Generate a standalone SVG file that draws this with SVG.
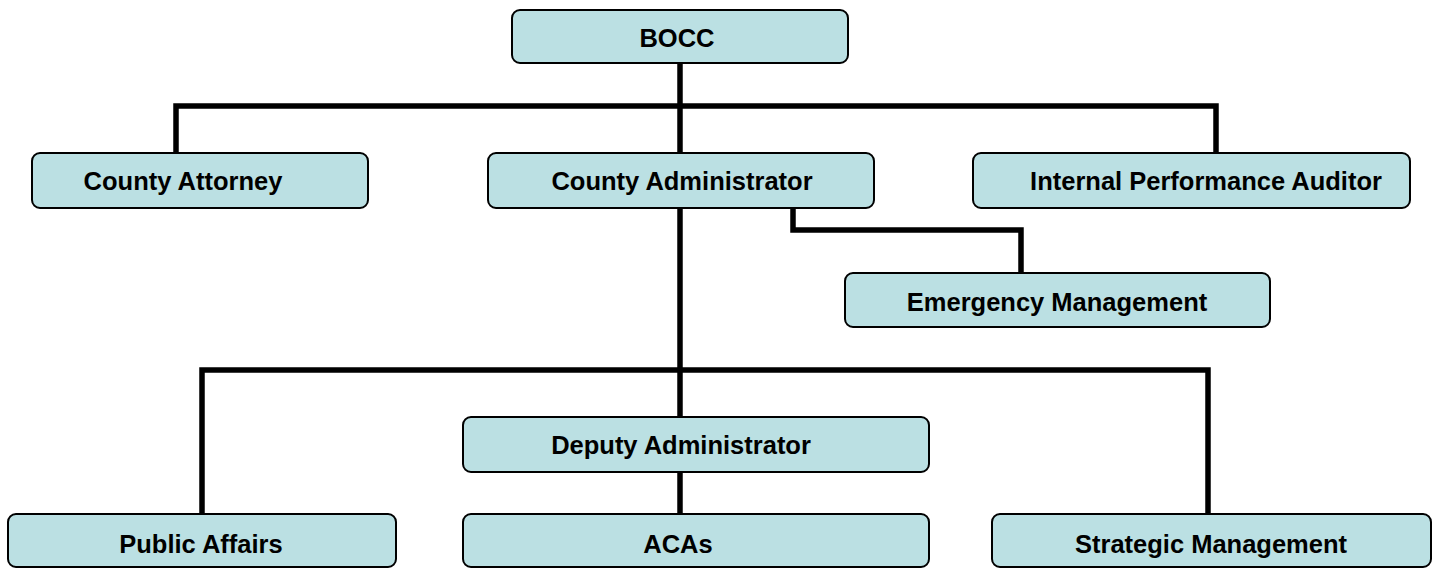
<svg xmlns="http://www.w3.org/2000/svg" width="1444" height="568" viewBox="0 0 1444 568">
<style>
.box{fill:#BBE0E3;stroke:#000;stroke-width:2}
.lbl{font-family:"Liberation Sans",Arial,sans-serif;font-weight:bold;font-size:25.5px;fill:#000;text-anchor:middle}
.conn{fill:none;stroke:#000;stroke-width:5.5;stroke-linejoin:miter;stroke-linecap:butt}
</style>
<rect width="1444" height="568" fill="#fff"/>
<g id="connectors">
<path class="conn" d="M680,63 V153"/>
<path class="conn" d="M176,153 V106 H1216 V153"/>
<path class="conn" d="M793,208 V230 H1021 V273"/>
<path class="conn" d="M680,208 V417"/>
<path class="conn" d="M202,514 V370 H1208 V514"/>
<path class="conn" d="M680,472 V514"/>
</g>
<g id="bocc"><rect class="box" x="512" y="10" width="336" height="53" rx="8"/><text class="lbl" x="677" y="47">BOCC</text></g>
<g id="county-attorney"><rect class="box" x="32" y="153" width="336" height="55" rx="8"/><text class="lbl" x="183" y="190">County Attorney</text></g>
<g id="county-administrator"><rect class="box" x="488" y="153" width="386" height="55" rx="8"/><text class="lbl" x="682" y="190">County Administrator</text></g>
<g id="internal-performance-auditor"><rect class="box" x="973" y="153" width="437" height="55" rx="8"/><text class="lbl" x="1206" y="190">Internal Performance Auditor</text></g>
<g id="emergency-management"><rect class="box" x="845" y="273" width="425" height="54" rx="8"/><text class="lbl" x="1057" y="311">Emergency Management</text></g>
<g id="deputy-administrator"><rect class="box" x="463" y="417" width="466" height="55" rx="8"/><text class="lbl" x="681" y="454">Deputy Administrator</text></g>
<g id="public-affairs"><rect class="box" x="8" y="514" width="388" height="53" rx="8"/><text class="lbl" x="201" y="553">Public Affairs</text></g>
<g id="acas"><rect class="box" x="463" y="514" width="466" height="53" rx="8"/><text class="lbl" x="678" y="553">ACAs</text></g>
<g id="strategic-management"><rect class="box" x="992" y="514" width="439" height="53" rx="8"/><text class="lbl" x="1211" y="553">Strategic Management</text></g>
</svg>
